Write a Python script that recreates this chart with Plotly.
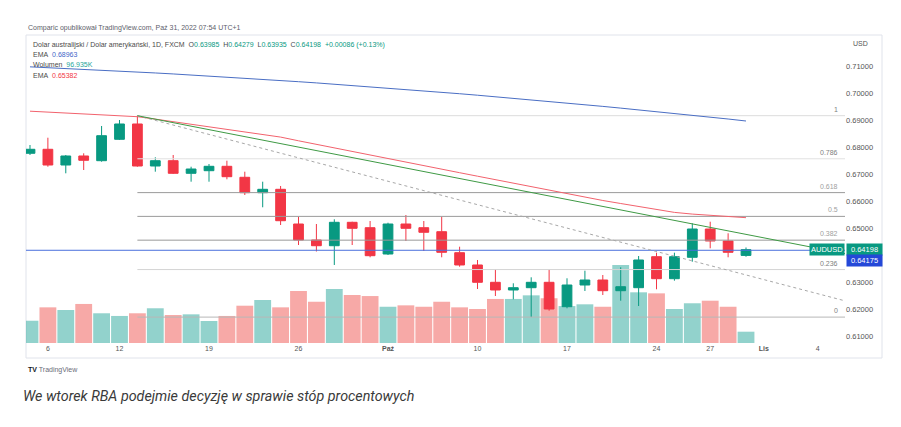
import plotly.graph_objects as go

# ---------------- data ----------------
day_index = list(range(41))  # Sep 5 ... Oct 31 2022, trading days
opens = [0.67767, 0.67915, 0.67333, 0.67667, 0.67493, 0.68285, 0.68852, 0.67296, 0.67493, 0.67026,
         0.67122, 0.67285, 0.66878, 0.66307, 0.66433, 0.65148, 0.64556, 0.64344, 0.65211, 0.65011,
         0.64037, 0.65148, 0.65011, 0.64863, 0.64085, 0.63630, 0.62989, 0.62704, 0.62789, 0.62989,
         0.62085, 0.62889, 0.63074, 0.62678, 0.62789, 0.63937, 0.63122, 0.63915, 0.64963, 0.64519,
         0.63985]
highs = [0.68074, 0.68344, 0.67704, 0.67767, 0.68778, 0.69000, 0.69160, 0.67619, 0.67704, 0.67270,
         0.67370, 0.67493, 0.67085, 0.66715, 0.66556, 0.65419, 0.65148, 0.65322, 0.65233, 0.65259,
         0.65196, 0.65481, 0.65259, 0.65419, 0.64307, 0.63815, 0.63470, 0.62952, 0.63174, 0.63470,
         0.63137, 0.63419, 0.63259, 0.63544, 0.63963, 0.64085, 0.64085, 0.65174, 0.65233, 0.64804,
         0.64279]
lows = [0.67704, 0.67270, 0.67026, 0.67148, 0.67456, 0.68259, 0.67270, 0.67085, 0.67000, 0.66715,
        0.66715, 0.66804, 0.66222, 0.65767, 0.65111, 0.64370, 0.64130, 0.63630, 0.64370, 0.63915,
        0.64000, 0.64519, 0.64148, 0.63915, 0.63567, 0.62741, 0.62481, 0.62359, 0.61700, 0.61937,
        0.62026, 0.62667, 0.62519, 0.62307, 0.62111, 0.62730, 0.63048, 0.63752, 0.64248, 0.63915,
        0.63935]
closes = [0.67915, 0.67333, 0.67667, 0.67507, 0.68419, 0.68852, 0.67296, 0.67493, 0.67026, 0.67185,
          0.67285, 0.66900, 0.66307, 0.66433, 0.65270, 0.64556, 0.64344, 0.65211, 0.64989, 0.63974,
          0.65148, 0.64989, 0.64841, 0.64100, 0.63630, 0.62989, 0.62704, 0.62789, 0.62989, 0.62000,
          0.62889, 0.63074, 0.62678, 0.62826, 0.63815, 0.63122, 0.63937, 0.64963, 0.64519, 0.64100,
          0.64198]
volume_k = [191, 306, 283, 335, 255, 232, 255, 298, 240, 246,
            189, 232, 320, 369, 306, 446, 354, 463, 412, 403,
            311, 323, 311, 354, 306, 292, 378, 378, 409, 384,
            317, 332, 311, 669, 435, 426, 292, 341, 363, 311,
            96.935]
ema_long = [0.70969, 0.70940, 0.70909, 0.70878, 0.70846, 0.70812, 0.70778, 0.70742, 0.70706, 0.70668,
            0.70629, 0.70589, 0.70548, 0.70506, 0.70463, 0.70419, 0.70374, 0.70327, 0.70280, 0.70231,
            0.70182, 0.70131, 0.70080, 0.70027, 0.69973, 0.69918, 0.69862, 0.69805, 0.69747, 0.69688,
            0.69628, 0.69566, 0.69504, 0.69440, 0.69376, 0.69310, 0.69243, 0.69176, 0.69107, 0.69037,
            0.68963]
ema_short = [0.69326, 0.69293, 0.69259, 0.69226, 0.69189, 0.69159, 0.69122, 0.69033, 0.68941, 0.68852,
             0.68759, 0.68667, 0.68574, 0.68481, 0.68367, 0.68230, 0.68096, 0.67963, 0.67826, 0.67693,
             0.67559, 0.67433, 0.67304, 0.67174, 0.67048, 0.66919, 0.66789, 0.66656, 0.66522, 0.66389,
             0.66256, 0.66130, 0.66019, 0.65907, 0.65800, 0.65689, 0.65578, 0.65515, 0.65474, 0.65433,
             0.65382]

tick_pos = [1, 5, 10, 15, 20, 25, 30, 35, 38, 41, 44]
tick_text = ["6", "12", "19", "26", "<b>Paź</b>", "10", "17", "24", "27", "<b>Lis</b>", "4"]
price_ticks = [0.61, 0.62, 0.63, 0.65, 0.66, 0.67, 0.68, 0.69, 0.70, 0.71]

fib_ratios = [1, 0.786, 0.618, 0.5, 0.382, 0.236, 0]
fib_labels = ["1", "0.786", "0.618", "0.5", "0.382", "0.236", "0"]
fib_high, fib_low, fib_start = 0.6916, 0.6170, 6

green_trend_x, green_trend_y = [6, 45.6], [0.6916, 0.6404]
dashed_trend_x, dashed_trend_y = [6, 45.6], [0.6916, 0.6229]
last_price, line_price = 0.64198, 0.64175

# ---------------- styling ----------------
GREEN, RED = "#089981", "#F23645"
VOL_UP, VOL_DN = "rgba(38,166,154,0.5)", "rgba(239,83,80,0.5)"
FONT = "Liberation Sans, Arial, sans-serif"
OFF = 8  # the page body margin of the browser
W, H = 901 - OFF, 427 - OFF
# plot area in page pixels
L, R, T, B = 26, 845, 35, 343
X_RANGE = [-0.223, 45.53]
Y_RANGE = [0.607407, 0.721481]


def px_x(xp):
    return (xp - L) / (R - L)


def px_y(yp):
    return (B - yp) / (B - T)


fig = go.Figure()

vol_colors = [VOL_UP if c >= o else VOL_DN for o, c in zip(opens, closes)]
fig.add_trace(go.Bar(x=day_index, y=volume_k, marker_color=vol_colors, marker_line_width=0,
                     yaxis="y", showlegend=False, hoverinfo="skip"))

fib_line_colors = ["#dcdcdc", "#e2e2e2", "#9a9a9a", "#9a9a9a", "#9a9a9a", "#d4d4d4", "#b8b8b8"]
fib_text_colors = ["#808080", "#808080", "#a0a0a0", "#a0a0a0", "#a0a0a0", "#808080", "#808080"]
for r, col in zip(fib_ratios, fib_line_colors):
    lvl = fib_low + r * (fib_high - fib_low)
    fig.add_trace(go.Scatter(x=[fib_start, X_RANGE[1] + 1], y=[lvl, lvl], mode="lines",
                             line=dict(color=col, width=1), yaxis="y2", showlegend=False,
                             hoverinfo="skip"))

fig.add_trace(go.Scatter(x=[X_RANGE[0] - 1, X_RANGE[1] + 1], y=[line_price, line_price], mode="lines",
                         line=dict(color="#4a6fdc", width=1), yaxis="y2", showlegend=False,
                         hoverinfo="skip"))

fig.add_trace(go.Scatter(x=day_index, y=ema_long, mode="lines", line=dict(color="#4a6ec4", width=1),
                         yaxis="y2", showlegend=False, hoverinfo="skip"))
fig.add_trace(go.Scatter(x=day_index, y=ema_short, mode="lines", line=dict(color="#f2626d", width=1),
                         yaxis="y2", showlegend=False, hoverinfo="skip"))

fig.add_trace(go.Scatter(x=dashed_trend_x, y=dashed_trend_y, mode="lines",
                         line=dict(color="#a8a8a8", width=1, dash="3px,3px"),
                         yaxis="y2", showlegend=False, hoverinfo="skip"))

fig.add_trace(go.Candlestick(x=day_index, open=opens, high=highs, low=lows, close=closes,
                             increasing=dict(line=dict(color=GREEN, width=1), fillcolor=GREEN),
                             decreasing=dict(line=dict(color=RED, width=1), fillcolor=RED),
                             whiskerwidth=0, yaxis="y2", showlegend=False, hoverinfo="skip"))

fig.add_trace(go.Scatter(x=green_trend_x, y=green_trend_y, mode="lines",
                         line=dict(color="#3f9a45", width=1),
                         yaxis="y2", showlegend=False, hoverinfo="skip"))

ann = []
# fib labels
for r, lab, col in zip(fib_ratios, fib_labels, fib_text_colors):
    lvl = fib_low + r * (fib_high - fib_low)
    ann.append(dict(xref="paper", yref="y2", x=px_x(840), y=lvl, text=lab, showarrow=False,
                    xanchor="right", yanchor="bottom", yshift=1,
                    font=dict(family=FONT, size=7, color=col)))

# price labels
ann.append(dict(xref="paper", yref="y2", x=px_x(845), y=last_price, text="AUDUSD", showarrow=False,
                xanchor="right", yanchor="middle", bgcolor=GREEN, borderpad=1,
                font=dict(family=FONT, size=7.5, color="white")))
ann.append(dict(xref="paper", yref="y2", x=px_x(846), y=last_price, text="0.64198", showarrow=False,
                xanchor="left", yanchor="middle", bgcolor=GREEN, borderpad=1, width=33,
                font=dict(family=FONT, size=7.5, color="white")))
ann.append(dict(xref="paper", yref="y2", x=px_x(846), y=line_price, yshift=-10.5, text="0.64175",
                showarrow=False, xanchor="left", yanchor="middle", bgcolor="#2448d8", borderpad=1,
                width=33, font=dict(family=FONT, size=7.5, color="white")))

ann.append(dict(xref="paper", yref="paper", x=px_x(851), y=px_y(43), text="USD", showarrow=False,
                xanchor="left", yanchor="middle", font=dict(family=FONT, size=7, color="#555")))

# header / legend
g = lambda v: f"<span style='color:{GREEN}'>{v}</span>"
nb = "\u00a0"
header = ("Dolar australijski / Dolar amerykański, 1D, FXCM" + nb * 2 + "O" + g("0.63985") + nb * 2 +
          "H" + g("0.64279") + nb * 2 + "L" + g("0.63935") + nb * 2 + "C" + g("0.64198") + nb * 2 +
          g("+0.00086 (+0.13%)"))
legend_rows = [
    (header, 44.7),
    ("EMA" + nb * 2 + "<span style='color:#3f66c8'>0.68963</span>", 54.5),
    ("Wolumen" + nb * 2 + "<span style='color:#26a69a'>96.935K</span>", 64.8),
    ("EMA" + nb * 2 + "<span style='color:#f23645'>0.65382</span>", 75),
]
for txt, yp in legend_rows:
    ann.append(dict(xref="paper", yref="paper", x=px_x(31), y=px_y(yp), text=txt, showarrow=False,
                    xanchor="left", yanchor="middle", font=dict(family=FONT, size=7, color="#4a4a4a")))

ann.append(dict(xref="paper", yref="paper", x=px_x(26), y=px_y(28),
                text="Comparic opublikował TradingView.com, Paź 31, 2022 07:54 UTC+1", showarrow=False,
                xanchor="left", yanchor="middle", font=dict(family=FONT, size=7, color="#5d606b")))

ann.append(dict(xref="paper", yref="paper", x=px_x(26), y=px_y(370),
                text="<b>TV</b> <span style='color:#6a6d78'>TradingView</span>", showarrow=False,
                xanchor="left", yanchor="middle", font=dict(family=FONT, size=7, color="#131722")))

ann.append(dict(xref="paper", yref="paper", x=px_x(21), y=px_y(396),
                text="<i>We wtorek RBA podejmie decyzję w sprawie stóp procentowych</i>", showarrow=False,
                xanchor="left", yanchor="middle", font=dict(family="Roboto", size=14.3, color="#3a3a3a")))

shapes = [dict(type="rect", xref="paper", yref="paper", x0=px_x(26), x1=px_x(882), y0=px_y(358), y1=px_y(35),
               line=dict(color="#e0e3eb", width=1), fillcolor="rgba(0,0,0,0)", layer="below")]

fig.update_layout(
    width=W, height=H,
    margin=dict(l=L - OFF, r=901 - R, t=T - OFF, b=427 - B),
    paper_bgcolor="white", plot_bgcolor="white",
    bargap=0.06, boxgap=0.22,
    showlegend=False,
    xaxis=dict(range=X_RANGE, showgrid=False, zeroline=False, showline=False,
               tickmode="array", tickvals=tick_pos, ticktext=tick_text, ticks="",
               tickfont=dict(family=FONT, size=7, color="#555"),
               rangeslider=dict(visible=False), fixedrange=True),
    yaxis=dict(range=[0, 2643], visible=False, fixedrange=True),
    yaxis2=dict(range=Y_RANGE, overlaying="y", side="right", showgrid=False, zeroline=False,
                showline=False, tickmode="array", tickvals=price_ticks, tickformat=".5f", ticks="",
                tickfont=dict(family=FONT, size=7.5, color="#555"), fixedrange=True),
    annotations=ann,
    shapes=shapes,
)

fig.write_html("out.html")
